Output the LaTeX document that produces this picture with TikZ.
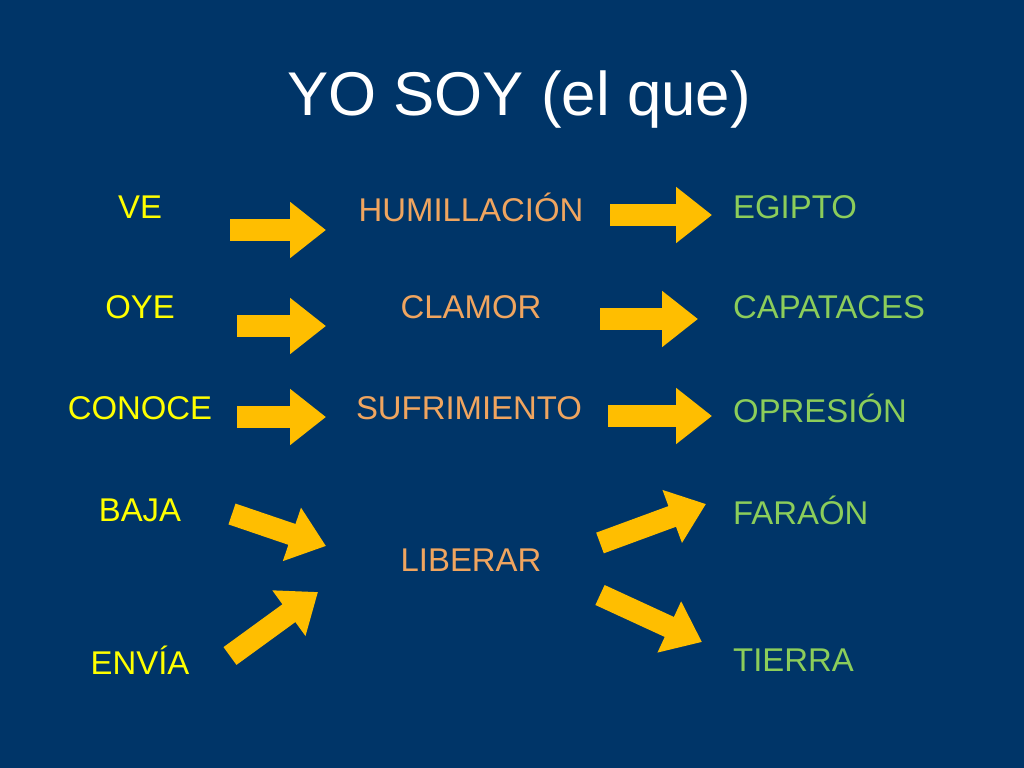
\documentclass[tikz,border=0pt]{standalone}
\usepackage{fontspec}
\setmainfont{Liberation Sans}
\usetikzlibrary{arrows.meta}
\definecolor{bg_navy}{RGB}{0, 53, 104}
\definecolor{txt_yellow}{RGB}{255, 255, 0}
\definecolor{txt_orange}{RGB}{240, 165, 95}
\definecolor{txt_green}{RGB}{140, 205, 90}
\definecolor{arr_gold}{RGB}{255, 190, 0}
\tikzstyle{verb}=[text=txt_yellow,font=\fontsize{33}{35}\selectfont]
\tikzstyle{mid}=[text=txt_orange,font=\fontsize{33}{35}\selectfont]
\tikzstyle{goal}=[text=txt_green,font=\fontsize{33}{35}\selectfont,anchor=west,inner sep=0pt]
\tikzstyle{fat}=[draw=arr_gold,line width=22bp,
  -{Triangle[length=36bp,width=54bp,fill=arr_gold,color=arr_gold]},shorten >=0pt]

\begin{document}
\begin{tikzpicture}[x=1bp,y=-1bp]
    \fill[bg_navy] (0,0) rectangle (1024,768);
    \node [text=white,font=\fontsize{62}{64}\selectfont] (title) at (519,100) {YO SOY (el que)};
    \node [style=verb] (ve) at (140,207) {VE};
    \node [style=verb] (oye) at (140,307) {OYE};
    \node [style=verb] (conoce) at (140,408) {CONOCE};
    \node [style=verb] (baja) at (140,510) {BAJA};
    \node [style=verb] (envia) at (140,660) {ENVÍA};
    \node [style=mid] (humil) at (471,207) {HUMILLACIÓN};
    \node [style=mid] (clamor) at (471,307) {CLAMOR};
    \node [style=mid] (sufri) at (469,408) {SUFRIMIENTO};
    \node [style=mid] (liberar) at (471,560) {LIBERAR};
    \node [style=goal] (egipto) at (733,207) {EGIPTO};
    \node [style=goal] (capat) at (733,307) {CAPATACES};
    \node [style=goal] (opres) at (733,408) {OPRESIÓN};
    \node [style=goal] (faraon) at (733,510) {FARAÓN};
    \node [style=goal] (tierra) at (733,660) {TIERRA};
    \coordinate (a1s) at (230,230); \coordinate (a1e) at (326,230);
    \coordinate (a2s) at (237,326); \coordinate (a2e) at (326,326);
    \coordinate (a3s) at (237,417); \coordinate (a3e) at (326,417);
    \coordinate (a4s) at (610,215); \coordinate (a4e) at (712,215);
    \coordinate (a5s) at (600,319); \coordinate (a5e) at (698,319);
    \coordinate (a6s) at (608,416); \coordinate (a6e) at (712,416);
    \coordinate (a7s) at (232,514); \coordinate (a7e) at (326,546);
    \coordinate (a8s) at (230,656); \coordinate (a8e) at (318,592);
    \coordinate (a9s) at (600,543); \coordinate (a9e) at (706,504);
    \coordinate (a10s) at (600,595); \coordinate (a10e) at (702,642);
    \foreach \i in {1,...,10}
      \draw [style=fat] (a\i s) to (a\i e);
\end{tikzpicture}
\end{document}
